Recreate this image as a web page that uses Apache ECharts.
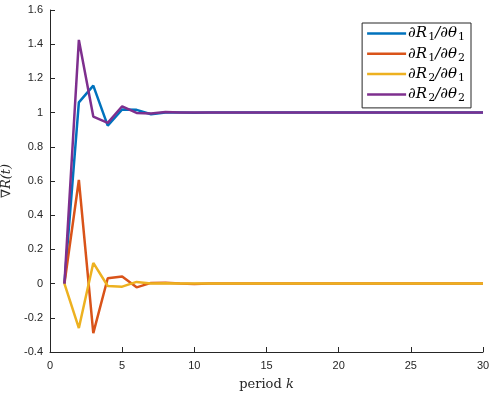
<!DOCTYPE html>
<html>
<head>
<meta charset="utf-8">
<script src="https://cdn.jsdelivr.net/npm/echarts@6/dist/echarts.min.js"></script>
<style>
  html, body { margin: 0; padding: 0; background: #fff; }
  #chart { width: 497px; height: 394px; }
</style>
</head>
<body>
<div id="chart"></div>
<script>
// periods k = 1..30
var periods = [];
for (var k = 1; k <= 30; k++) periods.push(k);

var dR1dTh1 = [0, 1.06, 1.158, 0.924, 1.018, 1.016, 0.99, 1.0, 1.0, 0.999, 1.0, 1.0, 1.0, 1.0, 1.0,
               1.0, 1.0, 1.0, 1.0, 1.0, 1.0, 1.0, 1.0, 1.0, 1.0, 1.0, 1.0, 1.0, 1.0, 1.0];
var dR1dTh2 = [0, 0.606, -0.29, 0.031, 0.041, -0.022, 0.004, 0.005, 0.0, -0.002, 0.001, 0.0, 0.0, 0.0, 0.0,
               0.0, 0.0, 0.0, 0.0, 0.0, 0.0, 0.0, 0.0, 0.0, 0.0, 0.0, 0.0, 0.0, 0.0, 0.0];
var dR2dTh1 = [0, -0.26, 0.121, -0.014, -0.018, 0.01, 0.0, 0.002, 0.0, 0.0, 0.0, 0.0, 0.0, 0.0, 0.0,
               0.0, 0.0, 0.0, 0.0, 0.0, 0.0, 0.0, 0.0, 0.0, 0.0, 0.0, 0.0, 0.0, 0.0, 0.0];
var dR2dTh2 = [0, 1.425, 0.977, 0.94, 1.037, 0.998, 0.995, 1.003, 1.0, 1.0, 1.0, 1.0, 1.0, 1.0, 1.0,
               1.0, 1.0, 1.0, 1.0, 1.0, 1.0, 1.0, 1.0, 1.0, 1.0, 1.0, 1.0, 1.0, 1.0, 1.0];

var seriesNames = ['dR1dTh1', 'dR1dTh2', 'dR2dTh1', 'dR2dTh2'];
// legend text pieces: [R index, theta index]
var legendIdx = [[1, 1], [1, 2], [2, 1], [2, 2]];
var seriesData = [dR1dTh1, dR1dTh2, dR2dTh1, dR2dTh2];
var colors = ['#0072BD', '#D95319', '#EDB120', '#7E2F8E'];

var tickFont = {fontFamily: 'Liberation Sans, Arial, sans-serif', fontSize: 11, color: '#262626'};
var axisLine = {show: true, onZero: false, lineStyle: {color: '#262626', width: 1}};
var tick = {show: true, inside: true, length: 5, lineStyle: {color: '#262626'}};
var serif = 'DejaVu Serif, serif';

var myChart = echarts.init(document.getElementById('chart'));
var option = {
  animation: false,
  backgroundColor: '#fff',
  grid: {left: 50, right: 14, top: 10, bottom: 42, outerBoundsMode: 'none', containLabel: false},
  legend: {
    orient: 'vertical',
    right: 26,
    top: 23,
    padding: [3, 6, 4, 5],
    itemGap: 3.3,
    itemWidth: 39,
    itemHeight: 2.5,
    icon: 'rect',
    backgroundColor: '#fff',
    borderColor: '#262626',
    borderWidth: 1,
    borderRadius: 0,
    formatter: function (name) {
      var p = legendIdx[seriesNames.indexOf(name)];
      return '{a|∂R}{s|' + p[0] + '}{a|/∂θ}{s|' + p[1] + '}';
    },
    textStyle: {
      color: '#000', padding: [0, 0, 0, -3],
      rich: {
        a: {fontFamily: serif, fontStyle: 'italic', fontSize: 15, color: '#000', height: 16, verticalAlign: 'middle'},
        s: {fontFamily: serif, fontSize: 11, color: '#000', height: 16, padding: [8, 0, 0, 1], verticalAlign: 'middle'}
      }
    },
    data: seriesNames
  },
  xAxis: {
    type: 'value', min: 0, max: 30, interval: 5,
    axisLine: axisLine,
    axisTick: tick,
    axisLabel: Object.assign({margin: 8}, tickFont),
    splitLine: {show: false},
    name: '{r|period }{i|k}',
    nameLocation: 'middle',
    nameGap: 26,
    nameTextStyle: {
      rich: {
        r: {fontFamily: serif, fontSize: 13, color: '#262626'},
        i: {fontFamily: serif, fontStyle: 'italic', fontSize: 13, color: '#262626'}
      }
    }
  },
  yAxis: {
    type: 'value', min: -0.4, max: 1.6, interval: 0.2,
    axisLine: axisLine,
    axisTick: tick,
    axisLabel: Object.assign({margin: 7, formatter: function (v) { return +v.toFixed(1) + ''; }}, tickFont),
    splitLine: {show: false},
    name: '∇R(t)',
    nameLocation: 'middle',
    nameGap: 30,
    nameRotate: 90,
    nameTextStyle: {fontFamily: serif, fontStyle: 'italic', fontSize: 13, color: '#262626'}
  },
  series: seriesNames.map(function (name, i) {
    return {
      name: name,
      type: 'line',
      symbol: 'none',
      color: colors[i],
      lineStyle: {width: 2.5, color: colors[i]},
      data: periods.map(function (p, j) { return [p, seriesData[i][j]]; })
    };
  })
};
myChart.setOption(option);
</script>
</body>
</html>
